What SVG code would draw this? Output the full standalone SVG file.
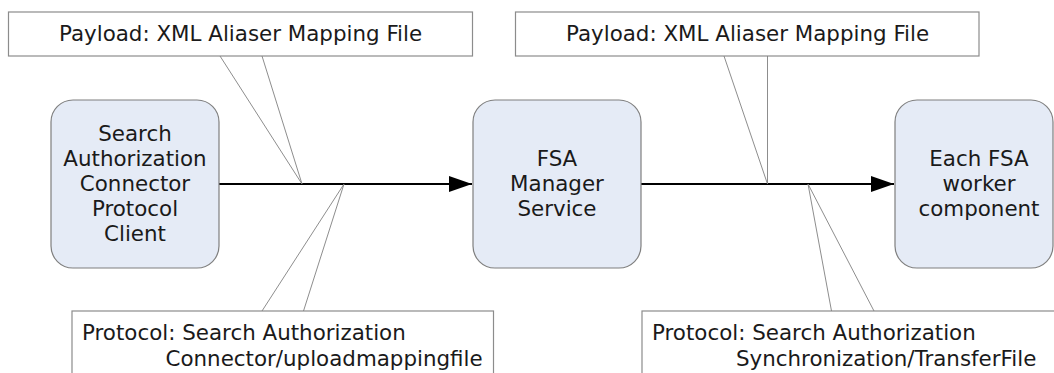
<svg xmlns="http://www.w3.org/2000/svg" width="1054" height="373" viewBox="0 0 1054 373">
<style>
.node{fill:#e5ebf6;stroke:#7f7f7f;stroke-width:1.2}
.callout{fill:#ffffff;stroke:#8c8c8c;stroke-width:1.2}
.ptr{fill:none;stroke:#808080;stroke-width:0.9}
.conn{fill:none;stroke:#000000;stroke-width:2}
text{font-family:"DejaVu Sans","Verdana",sans-serif;font-size:21.4px;fill:#1a1a1a}
.c{text-anchor:middle}
</style>
<defs>
<marker id="ah" viewBox="0 0 23 16" refX="23" refY="8" markerWidth="23" markerHeight="16" markerUnits="userSpaceOnUse" orient="auto">
<path d="M0,0 L23,8 L0,16 Z" fill="#000000"/>
</marker>
</defs>
<rect width="1054" height="373" fill="#ffffff"/>
<g id="connectors">
<line class="conn" x1="219" y1="184" x2="472" y2="184" marker-end="url(#ah)"/>
<line class="conn" x1="641" y1="184" x2="894" y2="184" marker-end="url(#ah)"/>
</g>
<g id="node-client">
<rect class="node" x="51" y="100" width="168" height="168" rx="22" ry="22"/>
<text class="c" x="135" y="141">Search</text>
<text class="c" x="135" y="166">Authorization</text>
<text class="c" x="135" y="191">Connector</text>
<text class="c" x="135" y="216">Protocol</text>
<text class="c" x="135" y="241">Client</text>
</g>
<g id="node-manager">
<rect class="node" x="473" y="100" width="168" height="168" rx="22" ry="22"/>
<text class="c" x="557" y="166">FSA</text>
<text class="c" x="557" y="191">Manager</text>
<text class="c" x="557" y="216">Service</text>
</g>
<g id="node-worker">
<rect class="node" x="895" y="100" width="158" height="168" rx="22" ry="22"/>
<text class="c" x="979" y="166">Each FSA</text>
<text class="c" x="979" y="191">worker</text>
<text class="c" x="979" y="216">component</text>
</g>
<g id="callout-payload-1">
<rect class="callout" x="8.5" y="12" width="464" height="44"/>
<line class="ptr" x1="220" y1="56" x2="302" y2="184"/>
<line class="ptr" x1="262" y1="56" x2="302" y2="184"/>
<text x="59" y="41">Payload: XML Aliaser Mapping File</text>
</g>
<g id="callout-payload-2">
<rect class="callout" x="515.5" y="12" width="463.5" height="44"/>
<line class="ptr" x1="724" y1="56" x2="767.5" y2="184"/>
<line class="ptr" x1="767.5" y1="56" x2="767.5" y2="184"/>
<text x="566" y="41">Payload: XML Aliaser Mapping File</text>
</g>
<g id="callout-protocol-1">
<rect class="callout" x="72" y="311" width="421.5" height="80"/>
<line class="ptr" x1="262" y1="311" x2="344" y2="184"/>
<line class="ptr" x1="303.5" y1="311" x2="344" y2="184"/>
<text x="82" y="340">Protocol: Search Authorization</text>
<text x="165.5" y="366">Connector/uploadmappingfile</text>
</g>
<g id="callout-protocol-2">
<rect class="callout" x="642" y="311" width="440" height="80"/>
<line class="ptr" x1="831.5" y1="311" x2="808" y2="184"/>
<line class="ptr" x1="874" y1="311" x2="808" y2="184"/>
<text x="652" y="340">Protocol: Search Authorization</text>
<text x="736" y="366">Synchronization/TransferFile</text>
</g>
</svg>
